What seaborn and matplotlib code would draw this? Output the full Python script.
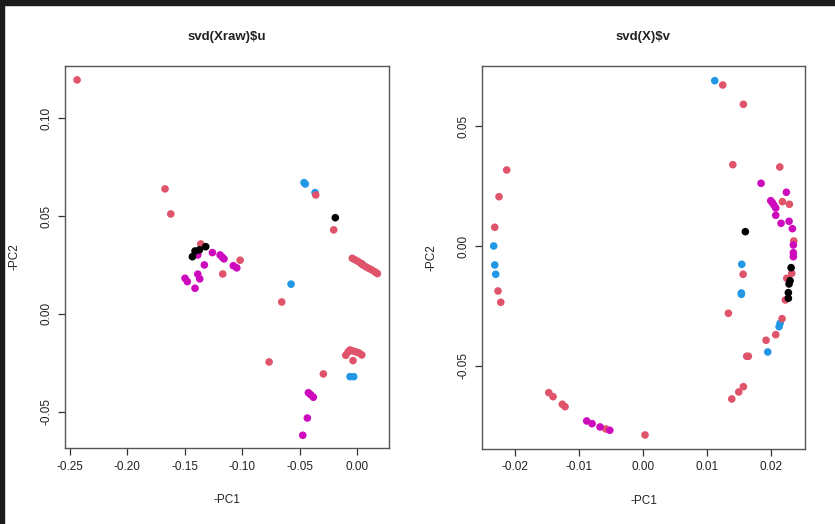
import pandas as pd
import matplotlib.pyplot as plt
import seaborn as sns
from matplotlib.patches import Rectangle

# -----------------------------
# Data
# -----------------------------

# panel 1: svd(Xraw)$u
u_red_x = [-0.2435, -0.1670, -0.1620, -0.1359, -0.1017, -0.1168, -0.0359, -0.0203,
           -0.0041, -0.0017, 0.0009, 0.0035, 0.0052, 0.0078, 0.0104, 0.0130, 0.0157, 0.0177,
           -0.0655, -0.0765, -0.0098, -0.0078, -0.0061, -0.0035, -0.0009, 0.0017, 0.0041,
           -0.0035, -0.0293]
u_red_y = [0.1194, 0.0638, 0.0510, 0.0357, 0.0274, 0.0204, 0.0607, 0.0429,
           0.0284, 0.0276, 0.0268, 0.0258, 0.0250, 0.0240, 0.0232, 0.0224, 0.0214, 0.0206,
           0.0061, -0.0245, -0.0211, -0.0194, -0.0184, -0.0189, -0.0194, -0.0199, -0.0209,
           -0.0238, -0.0306]
u_blue_x = [-0.0461, -0.0450, -0.0365, 0.0041, -0.0574, -0.0061, -0.0029]
u_blue_y = [0.0670, 0.0663, 0.0619, 0.0255, 0.0152, -0.0320, -0.0320]
u_black_x = [-0.1432, -0.1409, -0.1371, -0.1316, -0.0189]
u_black_y = [0.0292, 0.0321, 0.0327, 0.0343, 0.0491]
u_mag_x = [-0.1385, -0.1258, -0.1191, -0.1171, -0.1157, -0.1076, -0.1046, -0.1328,
           -0.1385, -0.1368, -0.1496, -0.1476, -0.1409, -0.0423, -0.0403, -0.0380,
           -0.0432, -0.0472]
u_mag_y = [0.0301, 0.0313, 0.0301, 0.0289, 0.0281, 0.0246, 0.0235, 0.0250,
           0.0203, 0.0179, 0.0182, 0.0165, 0.0131, -0.0402, -0.0412, -0.0425,
           -0.0531, -0.0619]

# panel 2: svd(X)$v
v_red_x = [-0.02130, -0.02250, -0.02317, -0.02266, -0.02223, -0.01473, -0.01406,
           -0.01261, -0.01219, -0.00583, 0.00031, 0.01245, 0.01567, 0.01402, 0.02136,
           0.02177, 0.02286, 0.02355, 0.01563, 0.02323, 0.02245, 0.02223, 0.01333,
           0.02172, 0.02073, 0.01922, 0.01620, 0.01645, 0.01567, 0.01495, 0.01386]
v_red_y = [0.03167, 0.02054, 0.00779, -0.01875, -0.02346, -0.06113, -0.06279,
           -0.06596, -0.06696, -0.07625, -0.07875, 0.06708, 0.05904, 0.03388, 0.03292,
           0.01846, 0.01738, 0.00208, -0.01179, -0.01138, -0.01346, -0.02250, -0.02804,
           -0.03029, -0.03696, -0.03929, -0.04596, -0.04596, -0.05863, -0.06083, -0.06375]
v_blue_x = [-0.02333, -0.02317, -0.02302, 0.01120, 0.01542, 0.01536, 0.01536,
            0.02141, 0.02125, 0.01948]
v_blue_y = [0.0, -0.00792, -0.01179, 0.06888, -0.00763, -0.01958, -0.02013,
            -0.03221, -0.03363, -0.04417]
v_black_x = [0.01598, 0.02313, 0.02297, 0.02281, 0.02270, 0.02270]
v_black_y = [0.00596, -0.00904, -0.01446, -0.01583, -0.01946, -0.02179]
v_mag_x = [-0.00880, -0.00797, -0.00672, -0.00520, 0.01844, 0.02239, 0.01995,
           0.02020, 0.02047, 0.02073, 0.02073, 0.02156, 0.02281, 0.02333, 0.02348,
           0.02348, 0.02348]
v_mag_y = [-0.07292, -0.07404, -0.07542, -0.07679, 0.02613, 0.02238, 0.01888,
           0.01804, 0.01696, 0.01583, 0.01279, 0.00946, 0.01029, 0.00721, 0.00042,
           -0.00279, -0.00446]

colours = {"black": "black", "red": "#DF536B", "blue": "#2297E6", "magenta": "#CD0BBC"}


def make_frame(groups):
    parts = []
    for name, xs, ys in groups:
        parts.append(pd.DataFrame({"x": xs, "y": ys, "grp": name}))
    return pd.concat(parts, ignore_index=True)


# draw order: blue, red, magenta, black (later ones sit on top)
df_u = make_frame([("blue", u_blue_x, u_blue_y), ("red", u_red_x, u_red_y),
                   ("magenta", u_mag_x, u_mag_y), ("black", u_black_x, u_black_y)])
df_v = make_frame([("blue", v_blue_x, v_blue_y), ("red", v_red_x, v_red_y),
                   ("magenta", v_mag_x, v_mag_y), ("black", v_black_x, v_black_y)])

# -----------------------------
# Plot
# -----------------------------
sns.set_style("white")
plt.rcParams["font.family"] = ["Liberation Sans", "DejaVu Sans"]
plt.rcParams["axes.unicode_minus"] = False

fig = plt.figure(figsize=(8.35, 5.24), dpi=100)
ax1 = fig.add_axes([65 / 835, 1 - 448 / 524, (389 - 65) / 835, (448 - 66) / 524])
ax2 = fig.add_axes([482 / 835, 1 - 449 / 524, (805 - 482) / 835, (449 - 66) / 524])

panels = [
    (ax1, df_u, "svd(Xraw)$u", (-0.254, 0.0278), (-0.0684, 0.1265),
     [-0.25, -0.20, -0.15, -0.10, -0.05, 0.00], [-0.05, 0.00, 0.05, 0.10]),
    (ax2, df_v, "svd(X)$v", (-0.02516, 0.0253), (-0.0846, 0.075),
     [-0.02, -0.01, 0.00, 0.01, 0.02], [-0.05, 0.00, 0.05]),
]

for ax, df, title, xl, yl, xt, yt in panels:
    sns.scatterplot(data=df, x="x", y="y", hue="grp", palette=colours,
                    s=30, linewidth=0, legend=False, ax=ax)
    ax.set_xlim(xl)
    ax.set_ylim(yl)
    ax.set_xticks(xt)
    ax.set_yticks(yt)
    ax.set_xticklabels([f"{t:.2f}" for t in xt])
    ax.set_yticklabels([f"{t:.2f}" for t in yt], rotation=90, va="center")
    ax.tick_params(axis="both", direction="out", length=5, width=0.9,
                   color="#333333", labelsize=8.5, labelcolor="#222222", pad=4)
    ax.tick_params(axis="both", bottom=True, left=True)
    for sp in ax.spines.values():
        sp.set_visible(True)
        sp.set_color("#555555")
        sp.set_linewidth(1.0)
    ax.set_xlabel("-PC1", fontsize=8.5, color="#222222")
    ax.set_ylabel("-PC2", fontsize=8.5, color="#222222")
    ax.xaxis.set_label_coords(0.5, -52 / 382)
    ax.xaxis.label.set_va("center")
    ax.text(0.5, 1 + 29 / 382, title, transform=ax.transAxes, ha="center",
            va="center", fontsize=9.5, fontweight="bold", color="#222222")

ax1.yaxis.set_label_coords(-(65 - 14) / 324, 0.5)
ax2.yaxis.set_label_coords(-(482 - 431) / 323, 0.5)
ax1.yaxis.label.set_va("center")
ax2.yaxis.label.set_va("center")

# dark frame of the screenshot (top and left edges)
fig.patches.append(Rectangle((0, 1 - 5 / 524), 1, 5 / 524, transform=fig.transFigure,
                             color="#1c1c1c", zorder=10))
fig.patches.append(Rectangle((0, 0), 4 / 835, 1, transform=fig.transFigure,
                             color="#1c1c1c", zorder=10))

plt.savefig("out.png", dpi=100)
